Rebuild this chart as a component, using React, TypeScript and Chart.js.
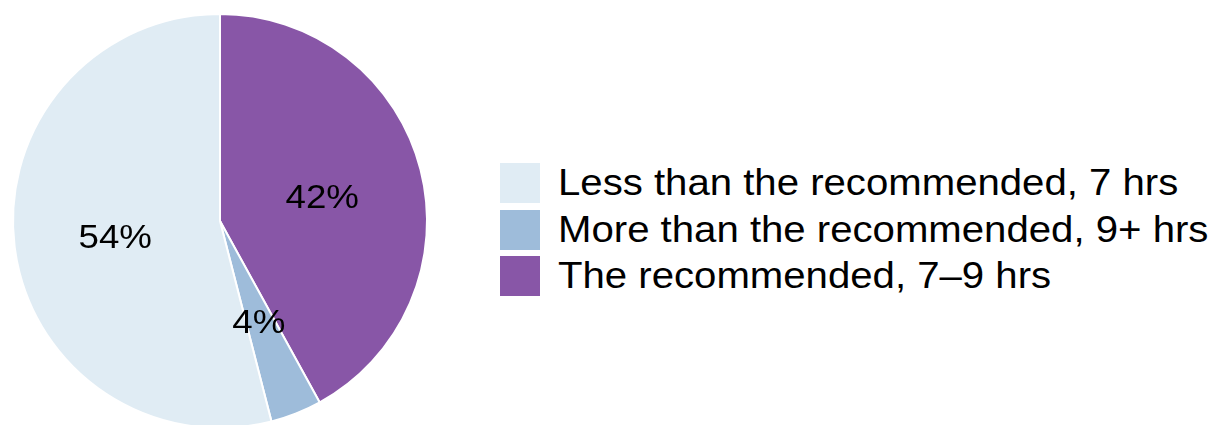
import React, { useEffect, useRef } from "react";
import { Chart, registerables } from "chart.js";

Chart.register(...registerables);

// Drawn clockwise from 12 o'clock
const categories = [
  "The recommended, 7\u20139 hrs",
  "More than the recommended, 9+ hrs",
  "Less than the recommended, 7 hrs",
];
const shares = [42, 4, 54];
const sliceLabels = ["42%", "4%", "54%"];
const colors = ["#8856a7", "#9ebcda", "#e0ecf4"];
// Legend order as shown in the reference
const legendOrder = [2, 1, 0];

const FONT = '"Liberation Sans", Arial, Helvetica, sans-serif';
const WIDEN = 1.115;

const labelPlugin = {
  id: "sliceLabels",
  afterDatasetsDraw(chart: any) {
    const meta = chart.getDatasetMeta(0);
    const ctx = chart.ctx;
    meta.data.forEach((arc: any, i: number) => {
      const p = arc.getProps(["x", "y", "startAngle", "endAngle", "outerRadius"], true);
      const mid = (p.startAngle + p.endAngle) / 2;
      const r = p.outerRadius * 0.51;
      const lx = p.x + Math.cos(mid) * r;
      const ly = p.y + Math.sin(mid) * r + 4;
      ctx.save();
      ctx.fillStyle = "#000000";
      ctx.font = `34px ${FONT}`;
      ctx.textAlign = "center";
      ctx.textBaseline = "middle";
      ctx.translate(lx, ly);
      ctx.scale(1.08, 1);
      ctx.fillText(sliceLabels[i], 0, 0);
      ctx.restore();
    });
  },
};

export default function App() {
  const ref = useRef<HTMLCanvasElement | null>(null);
  useEffect(() => {
    document.body.style.margin = "0";
    const chart = new Chart(ref.current as HTMLCanvasElement, {
      type: "pie",
      data: {
        labels: categories,
        datasets: [
          {
            data: shares,
            backgroundColor: colors,
            borderColor: "#ffffff",
            borderWidth: 2,
          },
        ],
      },
      options: {
        responsive: false,
        animation: false,
        layout: { padding: 12 },
        plugins: {
          legend: { display: false },
          tooltip: { enabled: false },
        },
      },
      plugins: [labelPlugin],
    });
    return () => chart.destroy();
  }, []);

  return (
    <div
      style={{
        position: "relative",
        width: 1217,
        height: 425,
        overflow: "hidden",
        background: "#ffffff",
        fontFamily: FONT,
      }}
    >
      <canvas
        ref={ref}
        width={440}
        height={442}
        style={{ position: "absolute", left: 0, top: 0, width: 440, height: 442 }}
      />
      <div style={{ position: "absolute", left: 500, top: 163 }}>
        {legendOrder.map((idx) => (
          <div
            key={idx}
            style={{ display: "flex", alignItems: "center", height: 40, marginBottom: 6.5 }}
          >
            <div style={{ width: 40, height: 40, background: colors[idx], flex: "none" }} />
            <div
              style={{
                marginLeft: 18,
                fontSize: 36,
                lineHeight: "40px",
                color: "#000000",
                whiteSpace: "nowrap",
                transform: `scaleX(${WIDEN})`,
                transformOrigin: "left center",
              }}
            >
              {categories[idx]}
            </div>
          </div>
        ))}
      </div>
    </div>
  );
}
